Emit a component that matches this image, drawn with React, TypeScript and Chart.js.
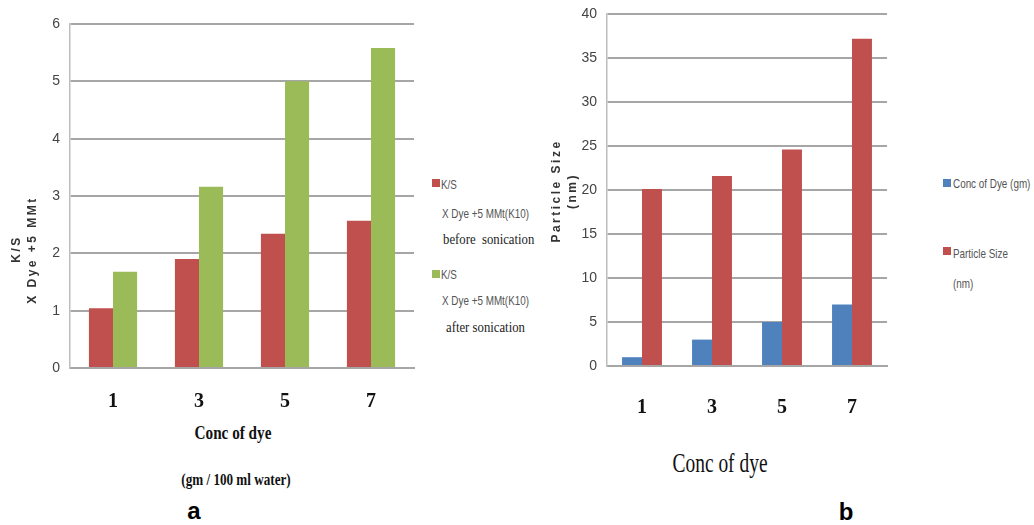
import React, { useEffect, useRef } from "react";
import { Chart, registerables } from "chart.js";

Chart.register(...registerables);

// ---- data ----
const categories = ["1", "3", "5", "7"];
const ksBefore = [1.04, 1.9, 2.34, 2.57];
const ksAfter = [1.68, 3.16, 5.0, 5.58];
const concOfDye = [1, 3, 5, 7];
const particleSize = [20.1, 21.6, 24.6, 37.2];
const yMaxA = 6;
const yStepA = 1;
const yMaxB = 40;
const yStepB = 5;

const RED = "#C0504D";
const GREEN = "#9BBB59";
const BLUE = "#4F81BD";
const NARROW = "'Liberation Sans Narrow', 'Liberation Sans', Arial, sans-serif";
const SERIF = "'Liberation Serif', 'DejaVu Serif', serif";
const SANS = "'Liberation Sans', Arial, sans-serif";

function makeOptions(yMax: number, yStep: number, yWidth: number, xHeight: number, tickPad: number, pad: any) {
  return {
    responsive: false,
    animation: false as const,
    devicePixelRatio: 1,
    layout: { padding: pad },
    plugins: { legend: { display: false }, tooltip: { enabled: false } },
    scales: {
      x: {
        grid: { display: false, drawTicks: false },
        border: { display: true, color: "#a6a6a6", width: 2 },
        ticks: {
          padding: tickPad,
          color: "#111",
          font: { family: SERIF, size: 20, weight: "bold" as const },
        },
        afterFit: (s: any) => {
          s.height = xHeight;
        },
      },
      y: {
        min: 0,
        max: yMax,
        grid: { color: "#a6a6a6", lineWidth: 2, drawTicks: false },
        border: { display: true, color: "#bdbdbd", width: 1.5 },
        ticks: {
          stepSize: yStep,
          padding: 10,
          color: "#444",
          font: { family: NARROW, size: 14 },
        },
        afterFit: (s: any) => {
          s.width = yWidth;
          s.paddingTop = 0;
        },
      },
    },
  };
}

function ChartA() {
  const ref = useRef<HTMLCanvasElement>(null);
  useEffect(() => {
    const chart = new Chart(ref.current!, {
      type: "bar",
      data: {
        labels: categories,
        datasets: [
          { label: "K/S X Dye +5 MMt(K10) before sonication", data: ksBefore, backgroundColor: RED, categoryPercentage: 0.56, barPercentage: 1 },
          { label: "K/S X Dye +5 MMt(K10) after sonication", data: ksAfter, backgroundColor: GREEN, categoryPercentage: 0.56, barPercentage: 1 },
        ],
      },
      options: makeOptions(yMaxA, yStepA, 70, 52, 22, { top: 24, right: 6, left: 0, bottom: 0 }) as any,
    });
    return () => chart.destroy();
  }, []);
  return <canvas ref={ref} width={420} height={420} style={{ position: "absolute", left: 0, top: 0 }} />;
}

function ChartB() {
  const ref = useRef<HTMLCanvasElement>(null);
  useEffect(() => {
    const chart = new Chart(ref.current!, {
      type: "bar",
      data: {
        labels: categories,
        datasets: [
          { label: "Conc of Dye (gm)", data: concOfDye, backgroundColor: BLUE, categoryPercentage: 0.57, barPercentage: 1 },
          { label: "Particle Size (nm)", data: particleSize, backgroundColor: RED, categoryPercentage: 0.57, barPercentage: 1 },
        ],
      },
      options: makeOptions(yMaxB, yStepB, 67, 54, 30, { top: 14, right: 3, left: 0, bottom: 0 }) as any,
    });
    return () => chart.destroy();
  }, []);
  return <canvas ref={ref} width={350} height={420} style={{ position: "absolute", left: 540, top: 0 }} />;
}

function Txt(props: { x: number; y: number; children: any; style?: any; rotate?: boolean; left?: boolean }) {
  const { x, y, children, style, rotate, left } = props;
  const tf = left
    ? "translate(0,-50%)" + (style && style.sx ? ` scaleX(${style.sx})` : "")
    : "translate(-50%,-50%)" + (rotate ? " rotate(-90deg)" : "") + (style && style.sx ? ` scaleX(${style.sx})` : "");
  const st: any = { ...(style || {}) };
  delete st.sx;
  return (
    <div
      style={{
        position: "absolute",
        left: x,
        top: y,
        transform: tf,
        transformOrigin: left ? "left center" : "center center",
        whiteSpace: "pre",
        lineHeight: 1,
        ...st,
      }}
    >
      {children}
    </div>
  );
}

function Swatch({ x, y, color }: { x: number; y: number; color: string }) {
  return <div style={{ position: "absolute", left: x, top: y, width: 8, height: 8, background: color }} />;
}

export default function App() {
  useEffect(() => {
    document.body.style.margin = "0";
  }, []);
  const legendText = { fontFamily: SANS, fontSize: 13, color: "#555", sx: 0.76 };
  const legendSerif = { fontFamily: SERIF, fontSize: 15, color: "#222", sx: 0.85 };
  const yTitle = { fontFamily: SANS, fontSize: 12, fontWeight: "bold", color: "#333", letterSpacing: "2.5px" };
  return (
    <div style={{ position: "fixed", left: 0, top: 0, width: 1034, height: 525, background: "#fff", overflow: "hidden" }}>
      <ChartA />
      <ChartB />

      {/* Chart a axis titles */}
      <Txt x={16} y={249} rotate style={yTitle}>K/S</Txt>
      <Txt x={32} y={250} rotate style={yTitle}>X Dye +5 MMt</Txt>
      <Txt x={233} y={432} style={{ fontFamily: SERIF, fontSize: 19, fontWeight: "bold", color: "#111", sx: 0.8 }}>Conc of dye</Txt>
      <Txt x={236} y={480} style={{ fontFamily: SERIF, fontSize: 16, fontWeight: "bold", color: "#111", sx: 0.82 }}>(gm / 100 ml water)</Txt>
      <Txt x={194} y={511} style={{ fontFamily: SANS, fontSize: 24, fontWeight: "bold", color: "#000" }}>a</Txt>

      {/* Chart a legend */}
      <Swatch x={432} y={179} color={RED} />
      <Txt x={441} y={184} left style={legendText}>K/S</Txt>
      <Txt x={442} y={213} left style={legendText}>X Dye +5 MMt(K10)</Txt>
      <Txt x={443} y={239} left style={legendSerif}>before  sonication</Txt>
      <Swatch x={432} y={270} color={GREEN} />
      <Txt x={441} y={274} left style={legendText}>K/S</Txt>
      <Txt x={442} y={300} left style={legendText}>X Dye +5 MMt(K10)</Txt>
      <Txt x={446} y={327} left style={legendSerif}>after sonication</Txt>

      {/* Chart b axis titles */}
      <Txt x={556} y={191} rotate style={yTitle}>Particle Size</Txt>
      <Txt x={572} y={191} rotate style={yTitle}>(nm)</Txt>
      <Txt x={720} y={463} style={{ fontFamily: SERIF, fontSize: 27, color: "#111", sx: 0.72 }}>Conc of dye</Txt>
      <Txt x={846} y={512} style={{ fontFamily: SANS, fontSize: 24, fontWeight: "bold", color: "#000" }}>b</Txt>

      {/* Chart b legend */}
      <Swatch x={943} y={179} color={BLUE} />
      <Txt x={953} y={183} left style={legendText}>Conc of Dye (gm)</Txt>
      <Swatch x={943} y={247} color={RED} />
      <Txt x={953} y={253} left style={legendText}>Particle Size</Txt>
      <Txt x={953} y={283} left style={legendText}>(nm)</Txt>
    </div>
  );
}
